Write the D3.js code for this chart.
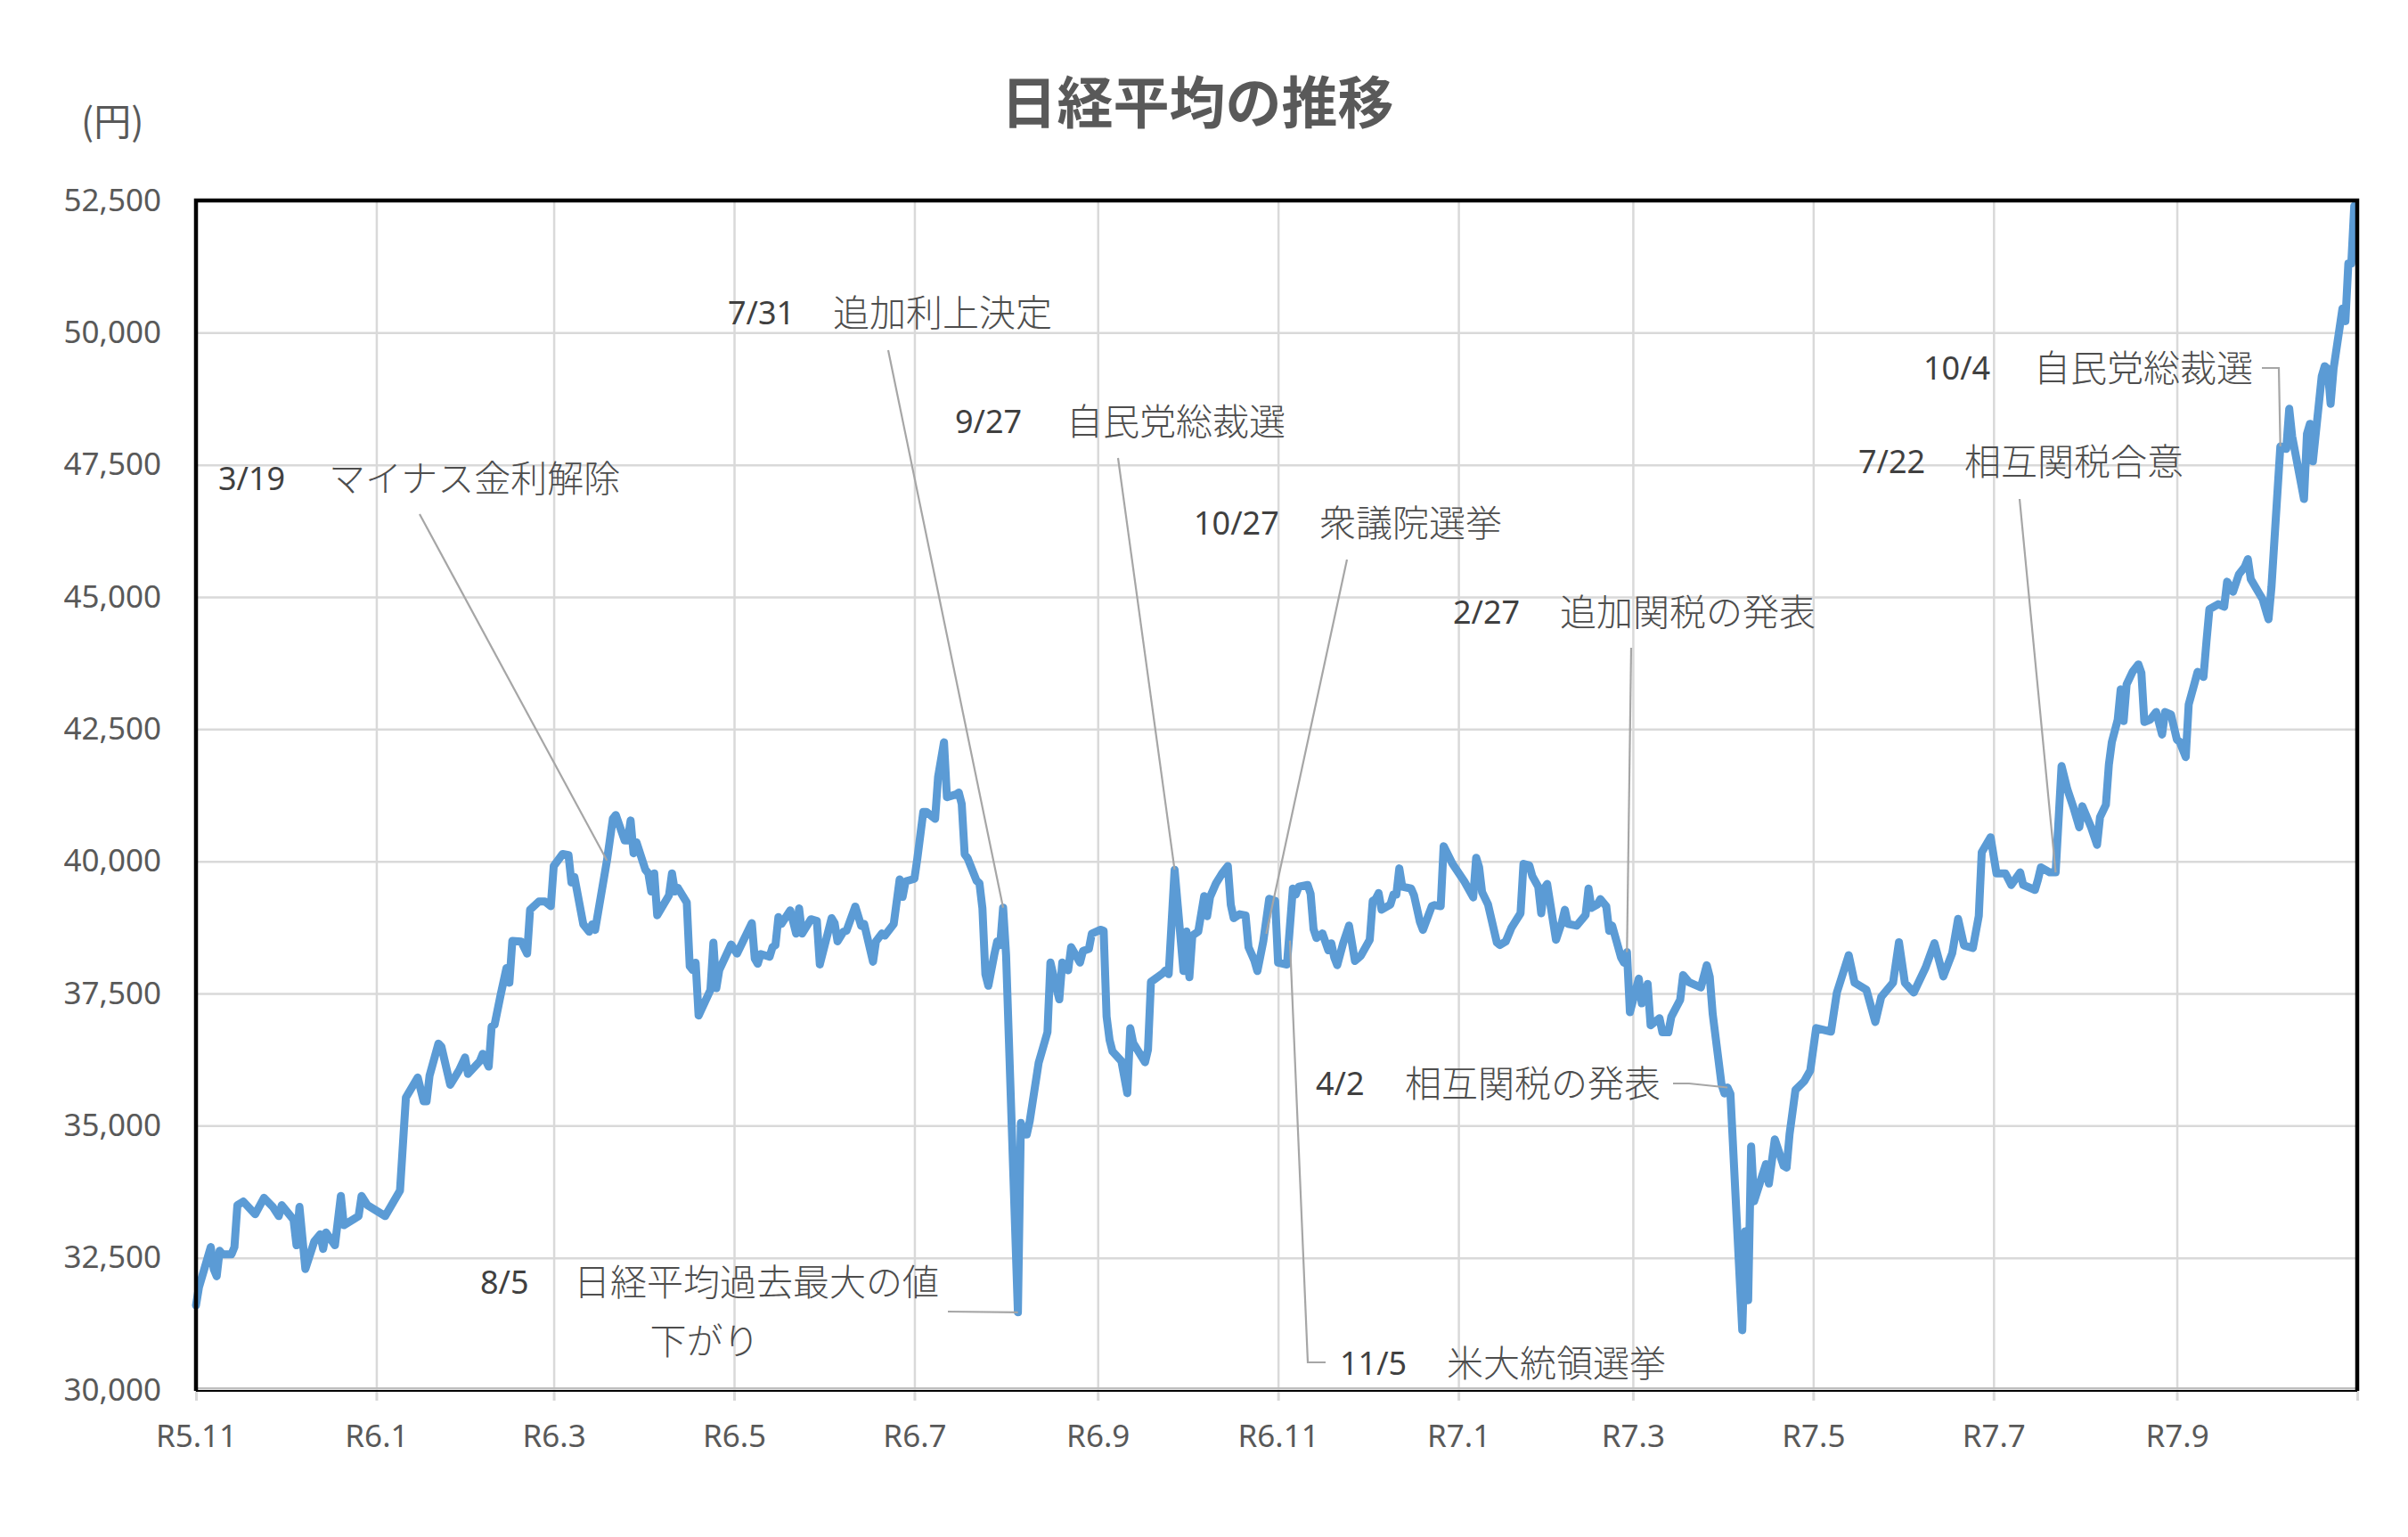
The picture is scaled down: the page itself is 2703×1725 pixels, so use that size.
<!DOCTYPE html>
<html>
<head>
<meta charset="utf-8">
<script src="https://cdn.jsdelivr.net/npm/d3@7"></script>
<style>
  body { margin: 0; background: #fff; }
</style>
</head>
<body>
<div id="chart"></div>
<script>
// 日経平均 終値
var dates = [
  "2023-11-01","2023-11-02","2023-11-06","2023-11-07","2023-11-08","2023-11-09","2023-11-10","2023-11-13","2023-11-14","2023-11-15",
  "2023-11-17","2023-11-21","2023-11-24","2023-11-27","2023-11-29","2023-11-30","2023-12-04","2023-12-05","2023-12-06","2023-12-08",
  "2023-12-11","2023-12-13","2023-12-14","2023-12-15","2023-12-18","2023-12-20","2023-12-21","2023-12-26","2023-12-27","2023-12-29",
  "2024-01-04","2024-01-09","2024-01-11","2024-01-15","2024-01-17","2024-01-18","2024-01-19","2024-01-22","2024-01-23","2024-01-24",
  "2024-01-26","2024-01-29","2024-01-31","2024-02-01","2024-02-05","2024-02-06","2024-02-08","2024-02-09","2024-02-10","2024-02-12",
  "2024-02-14","2024-02-15","2024-02-16","2024-02-19","2024-02-21","2024-02-22","2024-02-25","2024-02-27","2024-02-29","2024-03-01",
  "2024-03-04","2024-03-06","2024-03-07","2024-03-08","2024-03-11","2024-03-13","2024-03-14","2024-03-15","2024-03-19","2024-03-21",
  "2024-03-22","2024-03-25","2024-03-26","2024-03-27","2024-03-28","2024-03-29","2024-04-01","2024-04-02","2024-04-03","2024-04-04",
  "2024-04-05","2024-04-09","2024-04-10","2024-04-11","2024-04-12","2024-04-15","2024-04-16","2024-04-17","2024-04-18","2024-04-19",
  "2024-04-23","2024-04-24","2024-04-25","2024-04-26","2024-04-30","2024-05-02","2024-05-07","2024-05-08","2024-05-09","2024-05-10",
  "2024-05-13","2024-05-14","2024-05-15","2024-05-16","2024-05-17","2024-05-20","2024-05-22","2024-05-23","2024-05-24","2024-05-27",
  "2024-05-29","2024-05-30","2024-06-01","2024-06-03","2024-06-04","2024-06-05","2024-06-07","2024-06-08","2024-06-11","2024-06-13",
  "2024-06-14","2024-06-17","2024-06-18","2024-06-20","2024-06-21","2024-06-24","2024-06-26","2024-06-27","2024-06-28","2024-07-01",
  "2024-07-02","2024-07-04","2024-07-05","2024-07-08","2024-07-09","2024-07-11","2024-07-12","2024-07-15","2024-07-16","2024-07-17",
  "2024-07-18","2024-07-19","2024-07-22","2024-07-23","2024-07-24","2024-07-25","2024-07-26","2024-07-28","2024-07-29","2024-07-30",
  "2024-07-31","2024-08-01","2024-08-05","2024-08-06","2024-08-07","2024-08-08","2024-08-09","2024-08-12","2024-08-15","2024-08-16",
  "2024-08-18","2024-08-19","2024-08-20","2024-08-22","2024-08-23","2024-08-26","2024-08-27","2024-08-29","2024-08-30","2024-09-02",
  "2024-09-03","2024-09-04","2024-09-05","2024-09-06","2024-09-09","2024-09-11","2024-09-12","2024-09-13","2024-09-17","2024-09-18",
  "2024-09-19","2024-09-23","2024-09-24","2024-09-25","2024-09-27","2024-09-30","2024-10-01","2024-10-02","2024-10-03","2024-10-05",
  "2024-10-07","2024-10-08","2024-10-09","2024-10-11","2024-10-13","2024-10-15","2024-10-16","2024-10-17","2024-10-19","2024-10-21",
  "2024-10-22","2024-10-24","2024-10-25","2024-10-27","2024-10-29","2024-10-31","2024-11-01","2024-11-04","2024-11-06","2024-11-07",
  "2024-11-08","2024-11-11","2024-11-12","2024-11-13","2024-11-14","2024-11-16","2024-11-18","2024-11-19","2024-11-20","2024-11-21",
  "2024-11-23","2024-11-25","2024-11-27","2024-11-29","2024-12-02","2024-12-03","2024-12-04","2024-12-05","2024-12-06","2024-12-09",
  "2024-12-10","2024-12-11","2024-12-12","2024-12-13","2024-12-16","2024-12-17","2024-12-19","2024-12-20","2024-12-23","2024-12-24",
  "2024-12-26","2024-12-27","2024-12-30","2025-01-03","2025-01-06","2025-01-07","2025-01-08","2025-01-09","2025-01-11","2025-01-14",
  "2025-01-15","2025-01-17","2025-01-19","2025-01-22","2025-01-23","2025-01-25","2025-01-26","2025-01-28","2025-01-29","2025-01-30",
  "2025-01-31","2025-02-03","2025-02-05","2025-02-06","2025-02-07","2025-02-10","2025-02-13","2025-02-14","2025-02-15","2025-02-17",
  "2025-02-18","2025-02-20","2025-02-21","2025-02-22","2025-02-25","2025-02-26","2025-02-27","2025-02-28","2025-03-03","2025-03-04",
  "2025-03-06","2025-03-07","2025-03-10","2025-03-11","2025-03-13","2025-03-14","2025-03-17","2025-03-18","2025-03-20","2025-03-24",
  "2025-03-26","2025-03-27","2025-03-28","2025-03-31","2025-04-01","2025-04-02","2025-04-03","2025-04-07","2025-04-08","2025-04-09",
  "2025-04-10","2025-04-11","2025-04-15","2025-04-16","2025-04-18","2025-04-21","2025-04-22","2025-04-23","2025-04-25","2025-04-28",
  "2025-04-30","2025-05-02","2025-05-07","2025-05-09","2025-05-13","2025-05-15","2025-05-19","2025-05-22","2025-05-24","2025-05-28",
  "2025-05-30","2025-06-01","2025-06-04","2025-06-08","2025-06-11","2025-06-14","2025-06-17","2025-06-19","2025-06-21","2025-06-24",
  "2025-06-26","2025-06-27","2025-06-30","2025-07-02","2025-07-05","2025-07-07","2025-07-10","2025-07-11","2025-07-15","2025-07-16",
  "2025-07-17","2025-07-20","2025-07-22","2025-07-24","2025-07-26","2025-07-28","2025-07-30","2025-07-31","2025-08-03","2025-08-05",
  "2025-08-06","2025-08-08","2025-08-09","2025-08-10","2025-08-12","2025-08-13","2025-08-14","2025-08-15","2025-08-17","2025-08-19",
  "2025-08-20","2025-08-21","2025-08-23","2025-08-25","2025-08-27","2025-08-28","2025-08-30","2025-09-01","2025-09-02","2025-09-04",
  "2025-09-05","2025-09-07","2025-09-08","2025-09-10","2025-09-11","2025-09-12","2025-09-15","2025-09-17","2025-09-18","2025-09-20",
  "2025-09-22","2025-09-24","2025-09-25","2025-09-26","2025-09-30","2025-10-02","2025-10-03","2025-10-06","2025-10-08","2025-10-09",
  "2025-10-10","2025-10-14","2025-10-15","2025-10-16","2025-10-17","2025-10-20","2025-10-21","2025-10-22","2025-10-23","2025-10-24",
  "2025-10-27","2025-10-28","2025-10-29","2025-10-30","2025-10-31"
];

var closes = [
  31600,31944,32703,32289,32151,32634,32565,32565,32703,33496,
  33565,33324,33634,33462,33289,33496,33220,32737,33462,32289,
  32807,32944,32669,32979,32737,33669,33117,33289,33669,33496,
  33289,33772,35531,35910,35462,35462,35945,36552,36496,36255,
  35772,36048,36290,35979,36220,36358,36117,36876,36910,37462,
  37979,37703,38496,38483,38255,39083,39241,39241,39152,39910,
  40138,40117,39600,39703,38807,38669,38807,38703,40014,40807,
  40876,40393,40393,40772,40152,40358,39841,39772,39428,39772,
  38979,39359,39772,39428,39496,39221,38014,37945,38083,37083,
  37565,38462,37600,37945,38427,38255,38830,38158,38063,38246,
  38194,38377,38414,38947,38816,39072,38633,39108,38633,38904,
  38874,38048,38487,38925,38830,38487,38670,38684,39145,38779,
  38816,38099,38487,38633,38597,38816,39656,39327,39620,39671,
  40058,40936,40936,40804,41594,42251,41213,41264,41301,41082,
  40132,40058,39634,39583,39108,37865,37646,38231,38487,38414,
  39123,38231,31469,35051,34832,34832,35088,36184,36769,38085,
  37610,37390,38085,37939,38377,38085,38304,38341,38633,38706,
  38684,37061,36623,36404,36221,35614,36842,36564,36199,36440,
  37719,37880,37939,37865,39839,37924,38670,37807,38597,38670,
  39342,38962,39327,39583,39766,39912,39181,38925,38999,38977,
  38377,38121,37924,38487,39291,39254,38085,38048,39485,39372,
  39519,39552,39385,38717,38550,38636,38316,38449,38182,38035,
  38449,38783,38115,38215,38516,39251,39285,39398,39084,39185,
  39372,39372,39866,39519,39485,39352,38850,38703,39151,39171,
  39151,40287,39953,39619,39318,40067,39886,39418,39185,38463,
  38416,38483,38750,39017,39953,39920,39719,39519,39017,39485,
  39572,38516,38850,39084,38817,38783,38984,39485,39118,39185,
  39285,39151,38683,38783,38182,38082,38282,37146,37781,37313,
  37681,36899,37032,36765,36765,37059,37380,37848,37714,37614,
  38035,37814,37112,35776,35609,35722,35600,31130,33002,31699,
  34606,33570,34272,33904,34740,34239,34205,34840,35676,35843,
  36043,36845,36778,37517,38225,37703,37568,36961,37433,37703,
  38470,37703,37517,37989,38453,37821,38260,38913,38409,38360,
  38967,40172,40455,39772,39772,39554,39791,39554,39459,39649,
  39886,39791,39791,41801,41355,41023,40644,41042,40644,40312,
  40834,41070,41829,42256,42682,43251,42654,43346,43583,43725,
  43564,42635,42682,42824,42398,42824,42777,42303,42256,41971,
  42967,43374,43583,43488,44152,44768,44863,44815,45289,45099,
  45431,45573,45716,45336,44957,44578,45194,47848,47801,48559,
  48038,46853,48085,48275,47564,49175,49365,49317,48654,49317,
  50455,50218,51308,51308,52398
];

var yTicks = [30000, 32500, 35000, 37500, 40000, 42500, 45000, 47500, 50000, 52500];
var xTickDates = ["2023-11-01","2024-01-01","2024-03-01","2024-05-01","2024-07-01","2024-09-01",
  "2024-11-01","2025-01-01","2025-03-01","2025-05-01","2025-07-01","2025-09-01","2025-11-01"];
var xTickLabels = ["R5.11","R6.1","R6.3","R6.5","R6.7","R6.9","R6.11","R7.1","R7.3","R7.5","R7.7","R7.9",""];

// 出来事
var eventDates = ["2024-03-19","2024-07-31","2024-08-05","2024-09-27","2024-10-28",
  "2024-11-05","2025-02-27","2025-04-02","2025-07-22","2025-10-06"];
var eventValues = [40014, 39123, 31469, 39839, 38630, 38500, 38282, 35722, 39791, 47848];
var eventDateLabels = ["3/19","7/31","8/5","9/27","10/27","11/5","2/27","4/2","7/22","10/4"];
var eventTexts = ["マイナス金利解除","追加利上決定","日経平均過去最大の値|下がり","自民党総裁選","衆議院選挙",
  "米大統領選挙","追加関税の発表","相互関税の発表","相互関税合意","自民党総裁選"];

// ラベルの配置（px）
var labelLayout = [
  {dx: 245,  jx: 369,  cy: 537,  lead: [[471, 577]]},
  {dx: 817,  jx: 935,  cy: 351,  lead: [[997, 393]]},
  {dx: 539,  jx: 644,  cy: 1439, l2x: 791, l2y: 1505, lead: [[1064, 1472]]},
  {dx: 1072, jx: 1197, cy: 473,  lead: [[1255, 514]]},
  {dx: 1340, jx: 1481, cy: 587,  lead: [[1512, 628]]},
  {dx: 1504, jx: 1624, cy: 1530, lead: [[1488, 1529], [1468, 1529]]},
  {dx: 1631, jx: 1751, cy: 687,  lead: [[1831, 727]]},
  {dx: 1477, jx: 1577, cy: 1216, lead: [[1878, 1216], [1896, 1216]]},
  {dx: 2086, jx: 2205, cy: 518,  lead: [[2267, 560]]},
  {dx: 2159, jx: 2283, cy: 413,  lead: [[2539, 413], [2558, 413]]}
];

var W = 2703, H = 1725;
var plotL = 220, plotR = 2646, plotT = 225, plotB = 1560;
var numFont = "'Noto Sans', 'Open Sans', sans-serif";
var jpFont = "'Noto Sans CJK JP', 'Noto Sans', sans-serif";

var parse = d3.utcParse("%Y-%m-%d");
var series = dates.map(function(d, i) { return {date: parse(d), v: closes[i]}; });

var x = d3.scaleUtc()
  .domain([parse(xTickDates[0]), parse(xTickDates[xTickDates.length - 1])])
  .range([plotL, plotR]);
var y = d3.scaleLinear()
  .domain([yTicks[0], yTicks[yTicks.length - 1]])
  .range([plotB, plotT]);

var svg = d3.select("#chart")
  .append("svg")
  .attr("width", W)
  .attr("height", H)
  .style("background", "#fff");

// 目盛線
svg.append("g")
  .attr("transform", "translate(0," + plotB + ")")
  .call(d3.axisBottom(x).tickValues(xTickDates.map(parse)).tickSize(-(plotB - plotT)).tickFormat(""))
  .call(function(g) { g.select(".domain").remove(); })
  .selectAll("line")
  .attr("stroke", "#D9D9D9")
  .attr("stroke-width", 2.5);

svg.append("g")
  .attr("transform", "translate(" + plotL + ",0)")
  .call(d3.axisLeft(y).tickValues(yTicks).tickSize(-(plotR - plotL)).tickFormat(""))
  .call(function(g) { g.select(".domain").remove(); })
  .selectAll("line")
  .attr("stroke", "#D9D9D9")
  .attr("stroke-width", 2.5);

// Y軸ラベル
var yAxis = svg.append("g")
  .attr("transform", "translate(" + plotL + ",0)")
  .call(d3.axisLeft(y).tickValues(yTicks).tickSize(0).tickPadding(39).tickFormat(d3.format(",")));
yAxis.select(".domain").remove();
yAxis.selectAll("text")
  .attr("fill", "#595959")
  .style("font-family", numFont)
  .style("font-size", "35px");

// X軸
var xAxis = svg.append("g")
  .attr("transform", "translate(0," + plotB + ")")
  .call(d3.axisBottom(x).tickValues(xTickDates.map(parse)).tickSize(12).tickPadding(27)
    .tickFormat(function(d, i) { return xTickLabels[i]; }));
xAxis.select(".domain").remove();
xAxis.selectAll("line")
  .attr("stroke", "#D9D9D9")
  .attr("stroke-width", 3);
xAxis.selectAll("text")
  .attr("fill", "#595959")
  .style("font-family", numFont)
  .style("font-size", "35px");

// 系列
var line = d3.line()
  .x(function(d) { return x(d.date); })
  .y(function(d) { return y(d.v); });

svg.append("path")
  .datum(series)
  .attr("d", line)
  .attr("fill", "none")
  .attr("stroke", "#5B9BD5")
  .attr("stroke-width", 9)
  .attr("stroke-linejoin", "round")
  .attr("stroke-linecap", "round");

// 枠
svg.append("line")
  .attr("x1", plotL).attr("x2", plotR).attr("y1", plotB - 2).attr("y2", plotB - 2)
  .attr("stroke", "#BFBFBF").attr("stroke-width", 2);
svg.append("line")
  .attr("x1", plotL).attr("x2", plotR).attr("y1", plotB + 1).attr("y2", plotB + 1)
  .attr("stroke", "#000").attr("stroke-width", 2);
svg.append("path")
  .attr("d", "M" + plotL + "," + (plotB + 1) + "V" + plotT + "H" + plotR + "V" + (plotB + 1))
  .attr("fill", "none")
  .attr("stroke", "#000")
  .attr("stroke-width", 4.5);

// 引き出し線
var leader = d3.line();
svg.selectAll(".leader")
  .data(eventDates)
  .enter()
  .append("path")
  .attr("class", "leader")
  .attr("d", function(d, i) {
    var pts = labelLayout[i].lead.concat([[x(parse(d)), y(eventValues[i])]]);
    return leader(pts);
  })
  .attr("fill", "none")
  .attr("stroke", "#A6A6A6")
  .attr("stroke-width", 2.2);

// ラベル
eventDates.forEach(function(d, i) {
  var lay = labelLayout[i];
  var parts = eventTexts[i].split("|");

  svg.append("text")
    .attr("x", lay.dx)
    .attr("y", lay.cy + 13)
    .attr("fill", "#404040")
    .style("font-family", numFont)
    .style("font-size", "36px")
    .text(eventDateLabels[i]);

  svg.append("text")
    .attr("x", lay.jx)
    .attr("y", lay.cy + 15)
    .attr("fill", "#4d4d4d")
    .style("font-family", jpFont)
    .style("font-weight", 300)
    .style("font-size", "41px")
    .text(parts[0]);

  if (parts.length > 1) {
    svg.append("text")
      .attr("x", lay.l2x)
      .attr("y", lay.l2y + 15)
      .attr("text-anchor", "middle")
      .attr("fill", "#4d4d4d")
      .style("font-family", jpFont)
      .style("font-weight", 300)
      .style("font-size", "41px")
      .text(parts[1]);
  }
});

// タイトル
svg.append("text")
  .attr("x", 1344)
  .attr("y", 138)
  .attr("text-anchor", "middle")
  .attr("fill", "#595959")
  .style("font-family", jpFont)
  .style("font-weight", "bold")
  .style("font-size", "63px")
  .text("日経平均の推移");

svg.append("text")
  .attr("x", 91)
  .attr("y", 152)
  .attr("fill", "#595959")
  .style("font-family", jpFont)
  .style("font-size", "42px")
  .text("(円)");
</script>
</body>
</html>
